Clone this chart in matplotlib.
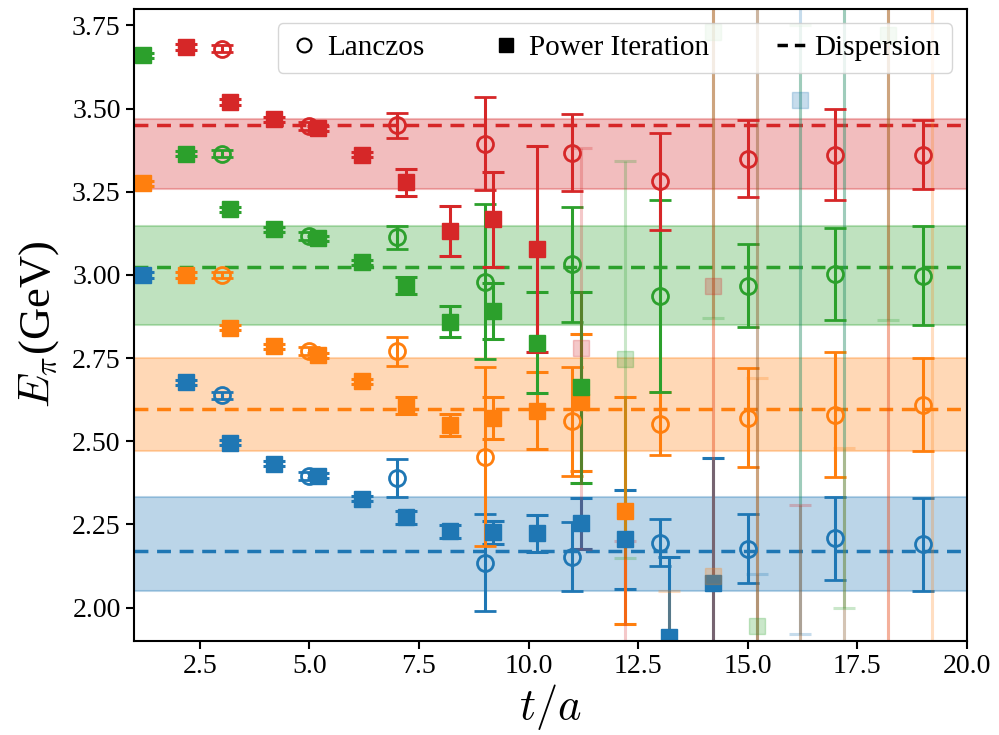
import numpy as np
import matplotlib
matplotlib.use("Agg")
import matplotlib.pyplot as plt
from matplotlib.lines import Line2D

plt.rcParams['font.family'] = ['Liberation Serif', 'DejaVu Serif']
plt.rcParams['mathtext.fontset'] = 'cm'

colors = ['tab:blue', 'tab:orange', 'tab:green', 'tab:red']

# Lanczos (open circles)
t_lanczos = [3, 5, 7, 9, 11, 13, 15, 17, 19]
lanczos_val = [
    [2.638, 2.397, 2.390, 2.135, 2.153, 2.195, 2.177, 2.208, 2.190],
    [3.000, 2.770, 2.770, 2.454, 2.560, 2.553, 2.571, 2.580, 2.610],
    [3.365, 3.116, 3.113, 2.980, 3.032, 2.937, 2.968, 3.003, 2.998],
    [3.680, 3.447, 3.450, 3.395, 3.368, 3.281, 3.350, 3.362, 3.362],
]
lanczos_err = [
    [0.010, 0.012, 0.057, 0.146, 0.104, 0.070, 0.104, 0.124, 0.141],
    [0.010, 0.012, 0.044, 0.270, 0.163, 0.095, 0.148, 0.187, 0.140],
    [0.010, 0.012, 0.035, 0.233, 0.173, 0.288, 0.124, 0.138, 0.149],
    [0.010, 0.012, 0.037, 0.140, 0.117, 0.147, 0.116, 0.137, 0.104],
]

# Power iteration (filled squares)
t_power = [1.2, 2.2, 3.2, 4.2, 5.2, 6.2, 7.2, 8.2, 9.2, 10.2,
           11.2, 12.2, 13.2, 14.2, 15.2, 16.2, 17.2, 18.2, 19.2]
power_val = [
    [3.000, 2.677, 2.496, 2.433, 2.397, 2.328, 2.271, 2.229, 2.226, 2.223,
     2.253, 2.205, 1.913, 2.075, 1.500, 3.527, 4.600, 1.000, 0.800],
    [3.275, 3.000, 2.842, 2.785, 2.758, 2.680, 2.607, 2.550, 2.571, 2.592,
     2.617, 2.292, 1.500, 2.096, 1.200, 0.500, 0.500, 0.400, 1.000],
    [3.660, 3.365, 3.197, 3.137, 3.110, 3.038, 2.968, 2.860, 2.893, 2.797,
     2.662, 2.746, 4.500, 3.730, 1.946, 1.200, 4.500, 3.720, 4.500],
    [3.930, 3.685, 3.520, 3.468, 3.441, 3.362, 3.278, 3.131, 3.167, 3.077,
     2.779, 1.600, 1.200, 2.968, 4.600, 1.000, 0.500, 5.000, 5.200],
]
power_err = [
    [0.008, 0.008, 0.008, 0.008, 0.008, 0.008, 0.020, 0.020, 0.034, 0.055,
     0.077, 0.148, 0.240, 0.376, 0.600, 1.607, 4.000, 0.500, 0.500],
    [0.008, 0.008, 0.008, 0.008, 0.008, 0.008, 0.025, 0.033, 0.063, 0.115,
     0.206, 0.340, 0.550, 3.000, 1.490, 0.500, 1.980, 5.000, 4.500],
    [0.008, 0.008, 0.008, 0.008, 0.008, 0.008, 0.025, 0.047, 0.084, 0.153,
     0.287, 0.596, 0.300, 0.860, 2.000, 2.550, 2.500, 0.855, 0.300],
    [0.008, 0.008, 0.008, 0.008, 0.008, 0.008, 0.040, 0.075, 0.143, 0.310,
     0.604, 0.600, 0.300, 3.000, 5.000, 1.310, 0.500, 5.000, 0.300],
]

# Dispersion prediction: centre and band
disp_center = [2.171, 2.597, 3.024, 3.452]
disp_low = [2.051, 2.472, 2.850, 3.257]
disp_high = [2.333, 2.751, 3.147, 3.468]

fig = plt.figure(figsize=(9.99, 7.35), dpi=100)
ax = fig.add_axes([0.134, 0.128, 0.834, 0.860])

for i, c in enumerate(colors):
    ax.axhspan(disp_low[i], disp_high[i], color=c, alpha=0.3, lw=1.5)
    ax.axhline(disp_center[i], color=c, ls='--', lw=2.5, dashes=(4, 2.5))

for i, c in enumerate(colors):
    for t, v, e in zip(t_power, power_val[i], power_err[i]):
        a = 1.0 if e < 0.45 else 0.25
        ax.errorbar(t, v, yerr=e, fmt='s', color=c, ms=11, elinewidth=2.2,
                    capsize=8, capthick=2.2, alpha=a)
    ax.errorbar(t_lanczos, lanczos_val[i], yerr=lanczos_err[i], fmt='o',
                color=c, mfc='none', mec=c, mew=2, ms=11.5, elinewidth=2.2,
                capsize=8, capthick=2.2, ls='none')

ax.set_xlim(1, 20)
ax.set_ylim(1.9, 3.8)
ax.set_xticks([2.5, 5.0, 7.5, 10.0, 12.5, 15.0, 17.5, 20.0])
ax.set_yticks([2.00, 2.25, 2.50, 2.75, 3.00, 3.25, 3.50, 3.75])
ax.xaxis.set_major_formatter(matplotlib.ticker.FormatStrFormatter('%.1f'))
ax.yaxis.set_major_formatter(matplotlib.ticker.FormatStrFormatter('%.2f'))
ax.tick_params(labelsize=20, width=1.5, length=6)
for s in ax.spines.values():
    s.set_linewidth(1.5)

ax.set_xlabel(r'$t/a$', fontsize=32, labelpad=2)
ax.set_ylabel(r'$E_\pi$(GeV)', fontsize=32, labelpad=8)

handles = [
    Line2D([], [], marker='o', mfc='none', mec='k', mew=1.5, ms=10, ls='none'),
    Line2D([], [], marker='s', color='k', ms=10, ls='none'),
    Line2D([], [], color='k', ls='--', lw=2.5, dashes=(3, 2)),
]
ax.legend(handles, ['Lanczos', 'Power Iteration', 'Dispersion'], loc='upper right',
          ncol=3, fontsize=21, handlelength=1.0, handletextpad=0.3,
          columnspacing=2.3)

fig.savefig('out.png', dpi=100)
